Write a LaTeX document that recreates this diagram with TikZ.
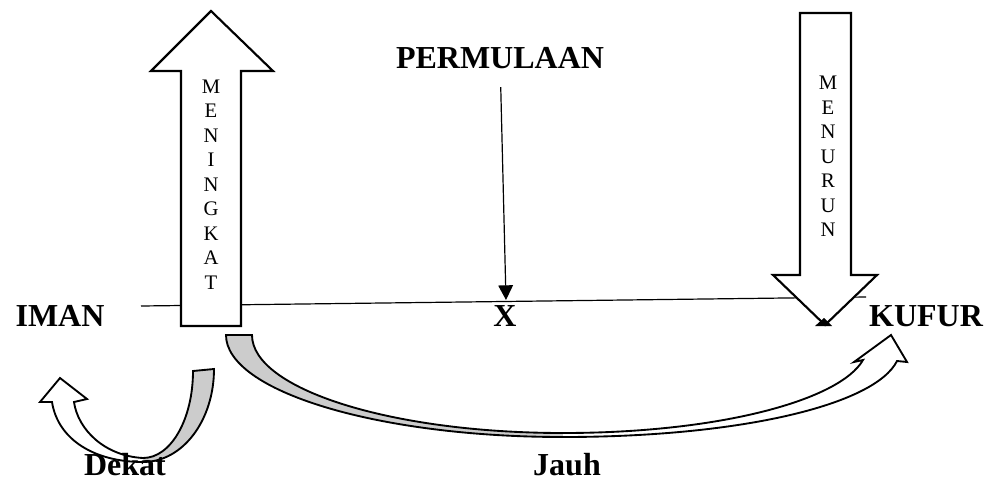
\documentclass[tikz,border=0pt]{standalone}
\usepackage{fontspec}
\setmainfont{Liberation Serif}
\usetikzlibrary{arrows.meta}
\definecolor{pitagray}{RGB}{204,204,204}

\begin{document}
\begin{tikzpicture}[
    x=0.75pt, y=-0.75pt,
    label/.style={font=\fontsize{24}{28}\selectfont\bfseries, inner sep=0pt, anchor=base},
    huruf/.style={font=\fontsize{15.5}{18.4}\selectfont, align=center, inner sep=0pt},
    panahbesar/.style={draw, line width=1.6pt, fill=white, line join=miter},
    pita/.style={draw, line width=1.4pt, line join=miter},
    penunjuk/.style={line width=0.9pt, -{Triangle[length=11pt,width=11pt]}}
]
\useasboundingbox (0,0) rectangle (987,482);

% garis IMAN - KUFUR
\coordinate (garisL) at (141,306);
\coordinate (garisR) at (866,297);
\draw[line width=0.9pt] (garisL) -- (garisR);

% panah naik dan turun
\draw[panahbesar] (181,326) -- (181,71) -- (151,71) -- (211,11) -- (273,71) -- (241,71) -- (241,326) -- cycle;
\draw[panahbesar] (800,13) -- (851,13) -- (851,275) -- (877,275) -- (825,325) -- (773,275) -- (800,275) -- cycle;
\fill (815,326) -- (824,318) -- (832,326) -- cycle;

\node[huruf] (naik) at (211,184.5) {M\\E\\N\\I\\N\\G\\K\\A\\T};
\node[huruf] (turun) at (828,156.5) {M\\E\\N\\U\\R\\U\\N};

\node[label] (iman) at (60,326) {IMAN};
\node[label] (kufur) at (926,326) {KUFUR};
\node[label] (titikx) at (505,326) {X};
\node[label] (permulaan) at (500,68) {PERMULAAN};

\coordinate (ujungx) at (506,300);
\draw[penunjuk, shorten <=14pt] (permulaan) -- (ujungx);

% pita Jauh
\fill[pitagray] (226,335) -- (252,335) .. controls (252,389) and (391,433) .. (563,433)
    -- (563,437) .. controls (377,437) and (226,391) .. (226,335) -- cycle;
\fill[white] (563,433) .. controls (720,433) and (840,400) .. (863,360)
    -- (854,362) -- (891,335) -- (907,362) -- (897,361)
    .. controls (875,405) and (740,437) .. (563,437) -- cycle;
\draw[pita] (226,335) -- (252,335) .. controls (252,389) and (391,433) .. (563,433)
    .. controls (720,433) and (840,400) .. (863,360)
    -- (854,362) -- (891,335) -- (907,362) -- (897,361)
    .. controls (875,405) and (740,437) .. (563,437)
    .. controls (377,437) and (226,391) .. (226,335) -- cycle;

% pita Dekat
\fill[pitagray] (193,371) -- (214,369) .. controls (214,420) and (183,462) .. (143,462)
    -- (143,458) .. controls (171,458) and (193,419) .. (193,371) -- cycle;
\fill[white] (143,462) .. controls (95,462) and (58,440) .. (52,402)
    -- (40,402) -- (60,378) -- (87,399) -- (74,402)
    .. controls (78,430) and (105,456) .. (143,458) -- cycle;
\draw[pita] (193,371) -- (214,369) .. controls (214,420) and (183,462) .. (143,462)
    .. controls (95,462) and (58,440) .. (52,402)
    -- (40,402) -- (60,378) -- (87,399) -- (74,402)
    .. controls (78,430) and (105,456) .. (143,458)
    .. controls (171,458) and (193,419) .. (193,371) -- cycle;

\node[label] (dekat) at (125,475) {Dekat};
\node[label] (jauh) at (567,475) {Jauh};
\end{tikzpicture}
\end{document}
